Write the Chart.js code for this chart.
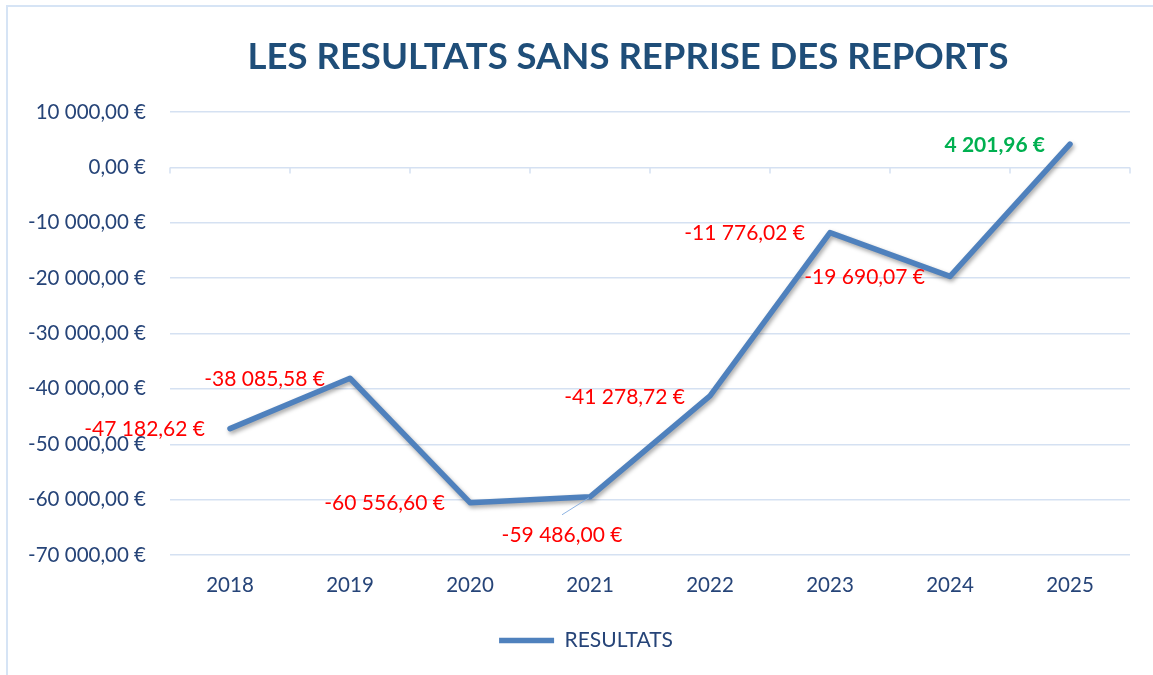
<!DOCTYPE html>
<html>
<head>
<meta charset="utf-8">
<script src="https://cdn.jsdelivr.net/npm/chart.js@4.4.1/dist/chart.umd.min.js"></script>
<style>
html,body{margin:0;padding:0;background:#fff;}
#wrap{position:relative;width:1153px;height:675px;}
</style>
</head>
<body>
<div id="wrap"><canvas id="c" width="1153" height="675"></canvas></div>
<script>
const categories = ['2018','2019','2020','2021','2022','2023','2024','2025'];
const resultats = [-47182.62, -38085.58, -60556.60, -59486.00, -41278.72, -11776.02, -19690.07, 4201.96];
const yTicks = [10000, 0, -10000, -20000, -30000, -40000, -50000, -60000, -70000];
const seriesName = 'RESULTATS';
const titleText = 'LES RESULTATS SANS REPRISE DES REPORTS';

function fmtEuro(v) {
  const neg = v < 0;
  const s = Math.abs(v).toFixed(2).split('.');
  const intPart = s[0].replace(/\B(?=(\d{3})+(?!\d))/g, ' ');
  return (neg ? '-' : '') + intPart + ',' + s[1] + ' €';
}

const FONT = 'Lato, "Open Sans", sans-serif';
const AXIS_COLOR = '#264478';
const GRID_COLOR = '#D5E1F2';
const LINE_COLOR = '#4F81BD';

// label placement: default left of the point; index 3 moved below with a leader line
const labelStyle = {
  default: { dx: -25, dy: 1, align: 'right' },
  moved: { 3: { dx: -28, dy: 38, align: 'center', leader: true } }
};

const framePlugin = {
  id: 'frame',
  afterLayout(chart) {
    // shift the legend block slightly right, as in the reference
    if (chart.legend) { chart.legend.left += 21; chart.legend.right += 21; }
  },
  beforeDraw(chart) {
    const ctx = chart.ctx;
    ctx.save();
    ctx.fillStyle = '#fff';
    ctx.fillRect(0, 0, chart.width, chart.height);
    ctx.strokeStyle = '#D6E4F5';
    ctx.lineWidth = 2;
    ctx.strokeRect(7, 6, chart.width + 20, chart.height + 20);
    // chart title
    ctx.font = 'bold 36.5px ' + FONT;
    ctx.fillStyle = '#1F4E79';
    ctx.textAlign = 'center';
    ctx.textBaseline = 'alphabetic';
    ctx.fillText(titleText, 628, 69);
    ctx.restore();
  }
};

const zeroTicksPlugin = {
  id: 'zeroTicks',
  beforeDatasetsDraw(chart) {
    const x = chart.scales.x, y = chart.scales.y;
    const ctx = chart.ctx;
    const y0 = y.getPixelForValue(0);
    const n = categories.length;
    const step = (x.getPixelForValue(1) - x.getPixelForValue(0));
    ctx.save();
    ctx.strokeStyle = GRID_COLOR;
    ctx.lineWidth = 1.5;
    for (let i = 0; i <= n; i++) {
      const px = x.getPixelForValue(0) - step / 2 + i * step;
      ctx.beginPath();
      ctx.moveTo(px, y0);
      ctx.lineTo(px, y0 + 6);
      ctx.stroke();
    }
    ctx.restore();
  }
};

const shadowPlugin = {
  id: 'lineShadow',
  beforeDatasetDraw(chart) {
    const ctx = chart.ctx;
    ctx.save();
    ctx.shadowColor = 'rgba(0,0,0,0.35)';
    ctx.shadowBlur = 4;
    ctx.shadowOffsetX = 1.5;
    ctx.shadowOffsetY = 2.5;
  },
  afterDatasetDraw(chart) {
    chart.ctx.restore();
  }
};

const dataLabelPlugin = {
  id: 'dataLabels',
  afterDatasetsDraw(chart) {
    const ctx = chart.ctx;
    const meta = chart.getDatasetMeta(0);
    ctx.save();
    meta.data.forEach((pt, i) => {
      const v = resultats[i];
      const st = labelStyle.moved[i] || labelStyle.default;
      const tx = pt.x + st.dx, ty = pt.y + st.dy;
      if (st.leader) {
        ctx.strokeStyle = '#8EB4E3';
        ctx.lineWidth = 1;
        ctx.beginPath();
        ctx.moveTo(pt.x - 1, pt.y + 1);
        ctx.lineTo(tx, ty - 20);
        ctx.stroke();
      }
      const pos = v >= 0;
      ctx.font = (pos ? 'bold ' : '') + '21px ' + FONT;
      ctx.fillStyle = pos ? '#00B050' : '#FF0000';
      ctx.textAlign = st.align;
      ctx.textBaseline = 'middle';
      ctx.fillText(fmtEuro(v), tx, ty);
    });
    ctx.restore();
  }
};

new Chart(document.getElementById('c'), {
  type: 'line',
  data: {
    labels: categories,
    datasets: [{
      label: seriesName,
      data: resultats,
      borderColor: LINE_COLOR,
      backgroundColor: LINE_COLOR,
      borderWidth: 5.5,
      borderCapStyle: 'round',
      borderJoinStyle: 'round',
      pointRadius: 0,
      pointHoverRadius: 0,
      tension: 0,
      fill: false
    }]
  },
  options: {
    responsive: false,
    animation: false,
    events: [],
    layout: { padding: { left: 0, right: 23, top: 112, bottom: 14 } },
    plugins: {
      title: { display: false },
      legend: {
        display: true,
        position: 'bottom',
        labels: {
          usePointStyle: true,
          pointStyle: 'line',
          pointStyleWidth: 55,
          boxHeight: 5,
          color: AXIS_COLOR,
          font: { family: FONT, size: 21 },
          padding: 10
        }
      },
      tooltip: { enabled: false }
    },
    scales: {
      x: {
        type: 'category',
        offset: true,
        grid: { display: false },
        border: { display: false },
        ticks: { color: AXIS_COLOR, font: { family: FONT, size: 20.5 }, padding: 10, maxRotation: 0 },
        afterFit(scale) { scale.height = 65; }
      },
      y: {
        min: -70000,
        max: 10000,
        afterBuildTicks(scale) { scale.ticks = yTicks.map(v => ({ value: v })); },
        grid: { color: GRID_COLOR, lineWidth: 1.5, drawTicks: false },
        border: { display: false },
        ticks: {
          color: AXIS_COLOR,
          font: { family: FONT, size: 20.5 },
          padding: 24,
          callback: (v) => fmtEuro(v)
        },
        afterFit(scale) { scale.width = 170; }
      }
    }
  },
  plugins: [framePlugin, zeroTicksPlugin, shadowPlugin, dataLabelPlugin]
});
</script>
</body>
</html>
